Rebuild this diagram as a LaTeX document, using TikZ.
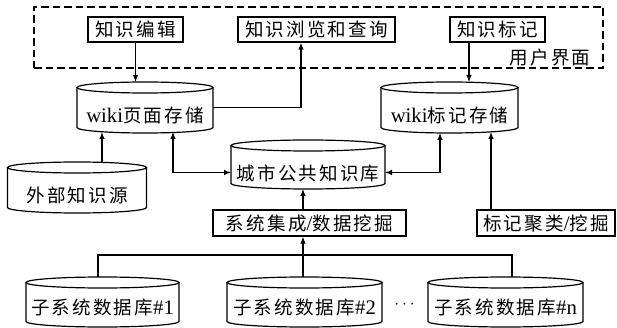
\documentclass[tikz,border=0pt]{standalone}
\usepackage{fontspec}
\setmainfont{Noto Sans CJK SC}[LetterSpace=12]
\newfontfamily\lat{Liberation Serif}[Scale=1.12]
\usetikzlibrary{arrows.meta}
\tikzset{
  conn/.style={line width=1.1pt, -{Latex[length=7pt,width=5.5pt]}},
  dconn/.style={line width=1.1pt, {Latex[length=7pt,width=5.5pt]}-{Latex[length=7pt,width=5.5pt]}},
  plainline/.style={line width=1.1pt},
  boxnode/.style={draw, line width=1.2pt, inner sep=0pt, minimum height=25pt, font=\fontsize{18.5}{18.5}\selectfont},
  cylframe/.style={inner sep=0pt, outer sep=0pt, draw=none},
  cyltext/.style={inner sep=0pt, font=\fontsize{18.5}{18.5}\selectfont},
  cylline/.style={line width=1.2pt},
  uiframe/.style={draw, line width=1.2pt, dash pattern=on 7.5pt off 4pt, inner sep=0pt},
}
\newcommand\dbcyl[7]{%
  \node[cylframe, minimum width=#4pt, minimum height={(#5-#3)*1pt}] (#1) at (#2,{(#3+#5)/2}) {};
  \draw[cylline] ([yshift=-5.5pt]#1.north) ellipse [x radius={#4*0.5pt}, y radius=5.5pt];
  \draw[cylline] ([yshift=-5.5pt]#1.north west) -- ([yshift=5.5pt]#1.south west)
     arc [start angle=180, end angle=360, x radius={#4*0.5pt}, y radius=5.5pt]
     -- ([yshift=-5.5pt]#1.north east);
  \node[cyltext] (#1-t) at (#2,#6) {#7};
}
\begin{document}
\begin{tikzpicture}[x=1pt, y=-1pt]
\useasboundingbox (0,0) rectangle (617,328);
% user interface frame
\node[uiframe, minimum width=569pt, minimum height=61pt] (uibox) at (318.5,37.5) {};
\node[cyltext] (ui) at (550,57) {用户界面};
\node[boxnode, minimum width=95pt] (edit) at (135.5,29.5) {知识编辑};
\node[boxnode, minimum width=157pt] (browse) at (316.5,29.5) {知识浏览和查询};
\node[boxnode, minimum width=95pt] (mark) at (497.5,29.5) {知识标记};
% databases
\dbcyl{wp}{145}{82}{136}{133}{115}{{\lat wiki}页面存储}
\dbcyl{wm}{449.5}{82}{137}{133}{115}{{\lat wiki}标记存储}
\dbcyl{city}{308}{140}{154}{189}{173}{城市公共知识库}
\dbcyl{ext}{77}{162}{139}{213}{195}{外部知识源}
\dbcyl{s1}{102.5}{277}{153}{327}{307}{子系统数据库{\lat \#1}}
\dbcyl{s2}{304.5}{277}{155}{327}{307}{子系统数据库{\lat \#2}}
\dbcyl{sn}{505.5}{277}{155}{327}{307}{子系统数据库{\lat \#n}}
\node[inner sep=0pt] (dots) at (404.5,305) {\fontsize{17}{17}\selectfont$\cdots$};
% processing boxes
\node[boxnode, minimum width=193pt, minimum height=26pt] (integ) at (309.5,223) {系统集成{\lat /}数据挖掘};
\node[boxnode, minimum width=138pt, minimum height=26pt] (cluster) at (546,223) {标记聚类{\lat /}挖掘};
% connectors
\draw[conn] (edit.south) -- (edit.south |- wp.north);
\draw[conn] (wp.east) -| ([xshift=-15.5pt]browse.south);
\draw[conn] ([xshift=-28.5pt]mark.south) -- ([xshift=-28.5pt]mark.south |- wm.north);
\draw[conn] ([xshift=25pt]ext.north) -- ([xshift=25pt, yshift=1pt]ext.north |- wp.south);
\draw[dconn] ([xshift=28pt, yshift=1pt]wp.south) |- ([yshift=-8pt]city.west);
\draw[dconn] ([xshift=-9.5pt]wm.south) |- ([yshift=-8pt]city.east);
\draw[conn] ([xshift=-55pt]cluster.north) -- ([xshift=-55pt, yshift=1pt]cluster.north |- wm.south);
\draw[conn] ([xshift=-6.5pt]integ.north) -- ([xshift=-6.5pt]integ.north |- city.south);
\draw[conn] ([xshift=-1.5pt]s2.north) -- ([xshift=-1.5pt]s2.north |- integ.south);
\coordinate (busL) at (98,255);
\coordinate (busR) at (512,255);
\draw[plainline] (s1.north -| busL) -- (busL) -- (busR) -- (busR |- sn.north);
\end{tikzpicture}
\end{document}
